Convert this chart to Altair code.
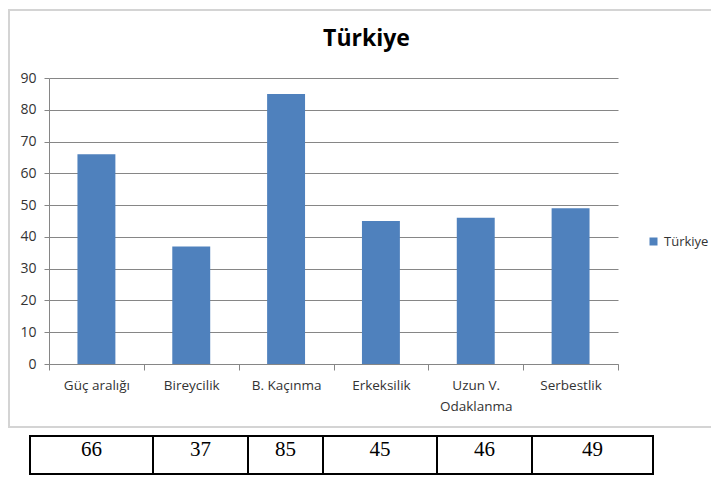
import altair as alt
import pandas as pd

# ---------------- data ----------------
categories = ["Güç aralığı", "Bireycilik", "B. Kaçınma", "Erkeksilik", "Uzun V. Odaklanma", "Serbestlik"]
values = [66, 37, 85, 45, 46, 49]
series_name = "Türkiye"
title_text = "Türkiye"
y_ticks = [0, 10, 20, 30, 40, 50, 60, 70, 80, 90]
table_values = [66, 37, 85, 45, 46, 49]

# ---------------- layout (pixels, page coordinates) ----------------
PAGE_MARGIN = 8
PLOT_LEFT, PLOT_TOP = 49, 78
W, H = 569, 286
TABLE_EDGES = [30, 153, 248, 323, 437, 532, 653]
TABLE_TOP, TABLE_BOTTOM = 436, 474
TABLE_TEXT_Y = 450

OX = PLOT_LEFT - PAGE_MARGIN
OY = PLOT_TOP - PAGE_MARGIN
RIGHT_PAD = 719 - 2 * PAGE_MARGIN - OX - W
BOTTOM_PAD = 468 - OY - H

BLUE = "#4F81BD"
GRID = "#868686"
TXT = "#333333"
FONT = "Open Sans"

df = pd.DataFrame({"Kategori": categories, "Değer": values, "Seri": [series_name] * len(values)})

tdf = pd.DataFrame({
    "x0": [e - PLOT_LEFT for e in TABLE_EDGES[:-1]],
    "x1": [e - PLOT_LEFT for e in TABLE_EDGES[1:]],
    "deger": [str(v) for v in table_values],
})
tdf["xm"] = (tdf["x0"] + tdf["x1"]) / 2

frame = alt.Chart(pd.DataFrame({"k": [0]})).mark_rect(
    fill="transparent", stroke="#d4d4d4", strokeWidth=2
).encode(
    x=alt.value(-40), x2=alt.value(W + RIGHT_PAD + 20), y=alt.value(-68), y2=alt.value(349)
)

bars = alt.Chart(df).mark_bar(width=alt.RelativeBandSize(0.4)).encode(
    x=alt.X(
        "Kategori:N",
        sort=categories,
        scale=alt.Scale(paddingInner=0, paddingOuter=0),
        axis=alt.Axis(
            title=None,
            labelAngle=0,
            tickBand="extent",
            tickSize=6,
            tickColor=GRID,
            domainColor=GRID,
            labelFont=FONT,
            labelFontSize=13.5,
            labelColor=TXT,
            labelPadding=8,
            labelLineHeight=21,
            labelExpr="datum.label == 'Uzun V. Odaklanma' ? ['Uzun V.', 'Odaklanma'] : datum.label",
        ),
    ),
    y=alt.Y(
        "Değer:Q",
        scale=alt.Scale(domain=[0, 90], nice=False),
        axis=alt.Axis(
            title=None,
            values=y_ticks,
            grid=True,
            gridColor=GRID,
            tickSize=5,
            tickColor=GRID,
            domainColor=GRID,
            labelFont=FONT,
            labelFontSize=14,
            labelColor=TXT,
            labelPadding=8,
        ),
    ),
    color=alt.Color(
        "Seri:N",
        scale=alt.Scale(range=[BLUE]),
        legend=alt.Legend(
            title=None,
            orient="none",
            legendX=598,
            legendY=157,
            padding=0,
            symbolType="square",
            symbolSize=64,
            symbolStrokeWidth=0,
            symbolOffset=0,
            labelOffset=4,
            labelFont=FONT,
            labelFontSize=13,
            labelColor=TXT,
        ),
    ),
)

cells = alt.Chart(tdf).mark_rect(fill="white", stroke="black", strokeWidth=2).encode(
    x=alt.X("x0:Q", scale=None, axis=None),
    x2="x1:Q",
    y=alt.value(TABLE_TOP - PLOT_TOP),
    y2=alt.value(TABLE_BOTTOM - PLOT_TOP),
)

texts = alt.Chart(tdf).mark_text(
    font="Liberation Serif", fontSize=21, baseline="middle", align="center", color="black"
).encode(
    x=alt.X("xm:Q", scale=None, axis=None),
    y=alt.value(TABLE_TEXT_Y - PLOT_TOP),
    text="deger:N",
)

chart = alt.layer(frame, bars, cells, texts).properties(
    width=W,
    height=H,
    title=alt.Title(
        title_text,
        font=FONT,
        fontSize=23,
        fontWeight="bold",
        color="black",
        anchor="middle",
        frame="group",
        baseline="alphabetic",
        dx=33,
        dy=60,
        offset=0,
    ),
    autosize=alt.AutoSizeParams(type="none"),
    padding={"left": OX, "top": OY, "right": RIGHT_PAD, "bottom": BOTTOM_PAD},
).configure_view(stroke=None)

chart.save("out.html", embed_options={"renderer": "svg", "actions": False})
